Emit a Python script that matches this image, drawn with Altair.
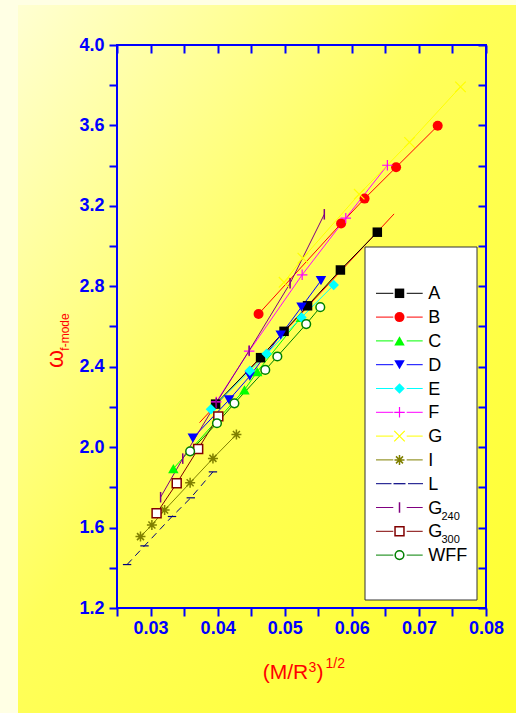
import altair as alt
import pandas as pd

# ---------------- data ----------------
names = ["A", "B", "C", "D", "E", "F", "G", "I", "L", "G240", "G300", "WFF"]

A_x = [0.0397, 0.0464, 0.0499, 0.0534, 0.0583, 0.0638]
A_y = [2.214, 2.445, 2.576, 2.703, 2.881, 3.069]
B_x = [0.0461, 0.0584, 0.0619, 0.0666, 0.0728]
B_y = [2.662, 3.112, 3.236, 3.392, 3.598]
C_x = [0.0334, 0.0440, 0.0459, 0.0524]
C_y = [1.893, 2.285, 2.375, 2.645]
D_x = [0.0363, 0.0417, 0.0448, 0.0494, 0.0525, 0.0554]
D_y = [2.045, 2.235, 2.353, 2.558, 2.697, 2.828]
E_x = [0.0390, 0.0448, 0.0473, 0.0525, 0.0573]
E_y = [2.188, 2.380, 2.464, 2.645, 2.806]
F_x = [0.0398, 0.0447, 0.0526, 0.0591, 0.0653]
F_y = [2.225, 2.478, 2.857, 3.139, 3.402]
G_x = [0.0499, 0.0527, 0.0611, 0.0686, 0.0762]
G_y = [2.820, 2.940, 3.258, 3.516, 3.792]
I_x = [0.0285, 0.0302, 0.0321, 0.0359, 0.0393, 0.0428]
I_y = [1.555, 1.613, 1.687, 1.823, 1.944, 2.063]
L_x = [0.0265, 0.0291, 0.0332, 0.0360, 0.0393]
L_y = [1.416, 1.509, 1.655, 1.748, 1.877]
G240_x = [0.0315, 0.0348, 0.0398, 0.0447, 0.0508, 0.0559]
G240_y = [1.751, 1.943, 2.220, 2.480, 2.815, 3.158]
G300_x = [0.0309, 0.0339, 0.0371, 0.0401]
G300_y = [1.671, 1.820, 1.991, 2.153]
WFF_x = [0.0359, 0.0399, 0.0425, 0.0471, 0.0489, 0.0532, 0.0553]
WFF_y = [1.979, 2.119, 2.218, 2.384, 2.451, 2.612, 2.696]
# unmarked red line running along series A
fit_x = [0.0373, 0.0663]
fit_y = [2.122, 3.160]

x_ticks = [0.025, 0.03, 0.035, 0.04, 0.045, 0.05, 0.055, 0.06, 0.065, 0.07, 0.075, 0.08]
y_ticks = [1.2, 1.4, 1.6, 1.8, 2.0, 2.2, 2.4, 2.6, 2.8, 3.0, 3.2, 3.4, 3.6, 3.8, 4.0]

series_x = [A_x, B_x, C_x, D_x, E_x, F_x, G_x, I_x, L_x, G240_x, G300_x, WFF_x]
series_y = [A_y, B_y, C_y, D_y, E_y, F_y, G_y, I_y, L_y, G240_y, G300_y, WFF_y]

# ---------------- styles ----------------
W, H = 369, 563
FONT = "Liberation Sans"
BLUE = "#0000FF"
RED = "#FF0000"

PLUS = "M-1,0L1,0M0,-1L0,1"
XMARK = "M-1,-1L1,1M-1,1L1,-1"
STAR = "M-1,0L1,0M0,-1L0,1M-0.7,-0.7L0.7,0.7M-0.7,0.7L0.7,-0.7"
VBAR = "M0,-1L0,1"

styles = {
    "A":    dict(color="#000000", shape="square", filled=True, size=90),
    "B":    dict(color="#FF0000", shape="circle", filled=True, size=100),
    "C":    dict(color="#00FF00", shape="triangle-up", filled=True, size=110),
    "D":    dict(color="#0000FF", shape="triangle-down", filled=True, size=110),
    "E":    dict(color="#00FFFF", shape="diamond", filled=True, size=110),
    "F":    dict(color="#FF00FF", shape=PLUS, filled=False, size=110, sw=1.2),
    "G":    dict(color="#FFFF00", shape=XMARK, filled=False, size=110, sw=1.2),
    "I":    dict(color="#808000", shape=STAR, filled=False, size=100, sw=1.5),
    "L":    dict(color="#000080", shape="stroke", filled=False, size=70, sw=1.2, dash=[7, 5]),
    "G240": dict(color="#800080", shape=VBAR, filled=False, size=110, sw=1.5),
    "G300": dict(color="#800000", shape="square", filled=True, fill="white", size=80, sw=1.5),
    "WFF":  dict(color="#008000", shape="circle", filled=True, fill="white", size=75, sw=1.5),
}

xs = alt.Scale(domain=[0.025, 0.08], nice=False, zero=False)
ys = alt.Scale(domain=[1.2, 4.0], nice=False, zero=False)

one = pd.DataFrame({"k": [0]})


def point_mark(st, **extra):
    kw = dict(shape=st["shape"], size=st["size"], opacity=1)
    if st["filled"]:
        kw["filled"] = True
        kw["fill"] = st.get("fill", st["color"])
        if "fill" in st:
            kw["stroke"] = st["color"]
            kw["strokeWidth"] = st.get("sw", 1)
            kw["fillOpacity"] = 1
    else:
        kw["filled"] = False
        kw["stroke"] = st["color"]
        kw["strokeWidth"] = st.get("sw", 1)
    kw.update(extra)
    return kw


layers = []

# background gradient panel (extends outside the plot area)
grad = alt.Gradient(
    gradient="linear",
    stops=[alt.GradientStop(color="#FFFFD2", offset=0),
           alt.GradientStop(color="#FFFF5A", offset=0.45),
           alt.GradientStop(color="#FFFF2E", offset=1)],
    x1=0, y1=0, x2=1, y2=1,
)
layers.append(
    alt.Chart(one).mark_rect(fill=grad).encode(
        x=alt.value(-99), x2=alt.value(516 - 117), y=alt.value(-40), y2=alt.value(713 - 45)
    )
)

# axes (bottom/left and top/right)
bottom_axis = alt.Axis(
    orient="bottom", values=x_ticks, title=None, grid=False, domain=False,
    labelExpr="round(datum.value*1000) % 10 == 0 ? format(datum.value, '.2f') : ''",
    tickSize=8, tickWidth=2, tickColor=BLUE, labelColor=BLUE, labelFont=FONT,
    labelFontSize=18, labelFontWeight="bold", labelPadding=3, labelOverlap=False,
    labelFlush=False, zindex=2,
)
left_axis = alt.Axis(
    orient="left", values=y_ticks, title=None, grid=False, domain=False,
    labelExpr="round(datum.value*10) % 4 == 0 ? format(datum.value, '.1f') : ''",
    tickSize=8, tickWidth=2, tickColor=BLUE, labelColor=BLUE, labelFont=FONT,
    labelFontSize=18, labelFontWeight="bold", labelPadding=5, labelOverlap=False,
    labelFlush=False, zindex=2,
)
top_axis = alt.Axis(
    orient="top", values=x_ticks, title=None, grid=False, domain=False, labels=False,
    tickSize=8, tickWidth=2, tickColor=BLUE, offset=-8, zindex=2,
)
right_axis = alt.Axis(
    orient="right", values=y_ticks, title=None, grid=False, domain=False, labels=False,
    tickSize=8, tickWidth=2, tickColor=BLUE, offset=-8, zindex=2,
)

dfA = pd.DataFrame({"x": A_x, "y": A_y})
layers.append(alt.Chart(dfA).mark_point(opacity=0).encode(
    x=alt.X("x:Q", scale=xs, axis=bottom_axis), y=alt.Y("y:Q", scale=ys, axis=left_axis)))
layers.append(alt.Chart(dfA).mark_point(opacity=0).encode(
    x=alt.X("x:Q", scale=xs, axis=top_axis), y=alt.Y("y:Q", scale=ys, axis=right_axis)))

X = lambda: alt.X("x:Q", scale=xs, axis=None)
Y = lambda: alt.Y("y:Q", scale=ys, axis=None)

# extra red line
layers.append(alt.Chart(pd.DataFrame({"x": fit_x, "y": fit_y})).mark_line(
    color=RED, strokeWidth=1).encode(x=X(), y=Y()))

# series lines
for nm, sx, sy in zip(names, series_x, series_y):
    st = styles[nm]
    df = pd.DataFrame({"x": sx, "y": sy})
    lk = dict(color=st["color"], strokeWidth=1)
    if "dash" in st:
        lk["strokeDash"] = st["dash"]
    layers.append(alt.Chart(df).mark_line(**lk).encode(x=X(), y=Y()))

# series markers
for nm, sx, sy in zip(names, series_x, series_y):
    st = styles[nm]
    df = pd.DataFrame({"x": sx, "y": sy})
    layers.append(alt.Chart(df).mark_point(**point_mark(st)).encode(x=X(), y=Y()))

# plot frame
layers.append(alt.Chart(one).mark_rect(fill="transparent", stroke=BLUE, strokeWidth=2).encode(
    x=alt.value(0), x2=alt.value(W), y=alt.value(0), y2=alt.value(H)))

# ---------------- legend ----------------
LB = dict(x0=248, x1=360, y0=202, y1=555)
layers.append(alt.Chart(one).mark_rect(fill="white", stroke="#333333", strokeWidth=1).encode(
    x=alt.value(LB["x0"]), x2=alt.value(LB["x1"]), y=alt.value(LB["y0"]), y2=alt.value(LB["y1"])))

row0, drow = 248.3, 23.8
mx = 282.5
for i, nm in enumerate(names):
    st = styles[nm]
    yy = row0 + drow * i
    if nm == "L":
        segs = [(259, 274.5), (291, 306)]
    else:
        segs = [(259, 276.3), (289.7, 305.7)]
    for a, b in segs:
        layers.append(alt.Chart(one).mark_rule(color=st["color"], strokeWidth=1).encode(
            x=alt.value(a), x2=alt.value(b), y=alt.value(yy)))
    pst = dict(st)
    if nm == "L":
        pst["size"] = 144
    layers.append(alt.Chart(one).mark_point(**point_mark(pst)).encode(
        x=alt.value(mx), y=alt.value(yy)))
    main = nm[0] if nm.startswith("G") and len(nm) > 1 else nm
    layers.append(alt.Chart(one).mark_text(
        text=main, font=FONT, fontSize=18, color="#000000", align="left", baseline="middle", dy=1
    ).encode(x=alt.value(311.3), y=alt.value(yy)))
    if main != nm:
        layers.append(alt.Chart(one).mark_text(
            text=nm[1:], font=FONT, fontSize=11, color="#000000", align="left", baseline="alphabetic"
        ).encode(x=alt.value(324.5), y=alt.value(yy + 12)))

# ---------------- axis titles ----------------
def txt(s, x, y, size, **kw):
    return alt.Chart(one).mark_text(text=s, font=FONT, fontSize=size, color=RED, **kw).encode(
        x=alt.value(x), y=alt.value(y))

layers.append(txt("(M/R", 308.3 - 117, 679 - 45, 21, align="right", baseline="alphabetic"))
layers.append(txt("3", 308.5 - 117, 671.5 - 45, 14, align="left", baseline="alphabetic"))
layers.append(txt(")", 316.5 - 117, 679 - 45, 21, align="left", baseline="alphabetic"))
layers.append(txt("1/2", 325.5 - 117, 668 - 45, 14, align="left", baseline="alphabetic"))

layers.append(txt("ω", 63 - 117, 359 - 45, 23, align="center", baseline="alphabetic", angle=270))
layers.append(txt("f-mode", 68.5 - 117, 332 - 45, 12, align="center", baseline="alphabetic", angle=270))

chart = alt.layer(*layers).resolve_axis(x="independent", y="independent").properties(
    width=W, height=H,
    padding={"left": 117, "top": 45, "right": 516 - 117 - W, "bottom": 713 - 45 - H},
    autosize=alt.AutoSizeParams(type="none"),
    background="#FFFFE4",
).configure_view(stroke=None)

chart.save("out.html", embed_options={"renderer": "svg", "actions": False})
